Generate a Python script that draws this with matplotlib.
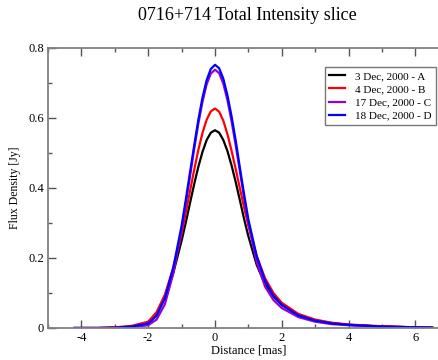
import matplotlib.pyplot as plt
from matplotlib.ticker import MultipleLocator

# distance along the slice [mas]
dist = [-4.2, -3.5, -3.0, -2.5, -2.0, -1.75, -1.5, -1.25, -1.0, -0.875, -0.75, -0.625,
        -0.5, -0.375, -0.25, -0.125, 0.0, 0.125, 0.25, 0.375, 0.5, 0.625, 0.75, 0.875,
        1.0, 1.25, 1.5, 1.75, 2.0, 2.5, 3.0, 3.5, 4.0, 5.0, 6.0, 6.5]

# flux density [Jy] for each epoch
flux_a = [0.000, 0.000, 0.001, 0.004, 0.012, 0.038, 0.089, 0.157, 0.249, 0.301, 0.356, 0.410,
          0.460, 0.503, 0.537, 0.558, 0.565, 0.558, 0.537, 0.505, 0.463, 0.415, 0.363, 0.310,
          0.262, 0.180, 0.125, 0.090, 0.066, 0.037, 0.022, 0.014, 0.009, 0.004, 0.002, 0.001]
flux_b = [0.000, 0.000, 0.002, 0.006, 0.018, 0.045, 0.095, 0.172, 0.270, 0.329, 0.390, 0.451,
          0.508, 0.557, 0.595, 0.619, 0.627, 0.618, 0.592, 0.553, 0.505, 0.452, 0.397, 0.343,
          0.292, 0.205, 0.142, 0.100, 0.072, 0.040, 0.024, 0.015, 0.010, 0.005, 0.002, 0.001]
flux_c = [0.000, 0.000, 0.000, 0.002, 0.008, 0.024, 0.068, 0.155, 0.280, 0.355, 0.432, 0.510,
          0.583, 0.646, 0.696, 0.727, 0.738, 0.728, 0.698, 0.650, 0.589, 0.519, 0.445, 0.370,
          0.300, 0.188, 0.118, 0.080, 0.057, 0.031, 0.018, 0.011, 0.008, 0.004, 0.002, 0.001]
flux_d = [0.000, 0.000, 0.001, 0.004, 0.013, 0.035, 0.085, 0.172, 0.292, 0.366, 0.443, 0.520,
          0.594, 0.658, 0.708, 0.740, 0.752, 0.742, 0.712, 0.664, 0.603, 0.533, 0.455, 0.380,
          0.310, 0.205, 0.135, 0.092, 0.066, 0.036, 0.021, 0.013, 0.009, 0.004, 0.002, 0.001]

labels = ['3 Dec, 2000 - A', '4 Dec, 2000 - B', '17 Dec, 2000 - C', '18 Dec, 2000 - D']
colors = ['black', '#ff0000', '#9400d3', '#0000ff']

plt.rcParams['font.family'] = ['Liberation Serif', 'DejaVu Serif']
plt.rcParams['axes.unicode_minus'] = False

fig = plt.figure(figsize=(4.39, 3.6), dpi=100)
ax = fig.add_axes([0.1093, 0.0889, 0.913, 0.7778])

for flux, lab, col in zip([flux_a, flux_b, flux_c, flux_d], labels, colors):
    ax.plot(dist, flux, color=col, linewidth=1.6, label=lab)

ax.set_xlim(-5, 7)
ax.set_ylim(0, 0.8)
ax.xaxis.set_major_locator(MultipleLocator(2))
ax.xaxis.set_minor_locator(MultipleLocator(1))
ax.yaxis.set_minor_locator(MultipleLocator(0.1))
ax.set_yticks([0, 0.2, 0.4, 0.6, 0.8])
ax.set_yticklabels(['0', '0.2', '0.4', '0.6', '0.8'])

ax.tick_params(which='both', direction='in', top=True, right=True, labelsize=9,
               color='#555555', width=1)
ax.tick_params(which='major', length=6, pad=3)
ax.tick_params(which='minor', length=3)
for sp in ax.spines.values():
    sp.set_color('#808080')
    sp.set_linewidth(1.3)

ax.set_xlabel('Distance [mas]', fontsize=9, labelpad=0)
ax.set_ylabel('Flux Density [Jy]', fontsize=8.5, labelpad=5)
fig.text(0.563, 0.958, '0716+714 Total Intensity slice', ha='center', va='center', fontsize=13)

leg = ax.legend(loc='upper right', bbox_to_anchor=(0.968, 0.932), fontsize=8,
                frameon=True, fancybox=False, handlelength=1.4, borderpad=0.4,
                labelspacing=0.3, handletextpad=0.9, borderaxespad=0)
leg.get_frame().set_edgecolor('#555555')
leg.get_frame().set_linewidth(1.0)

fig.savefig('out.png', dpi=100)
